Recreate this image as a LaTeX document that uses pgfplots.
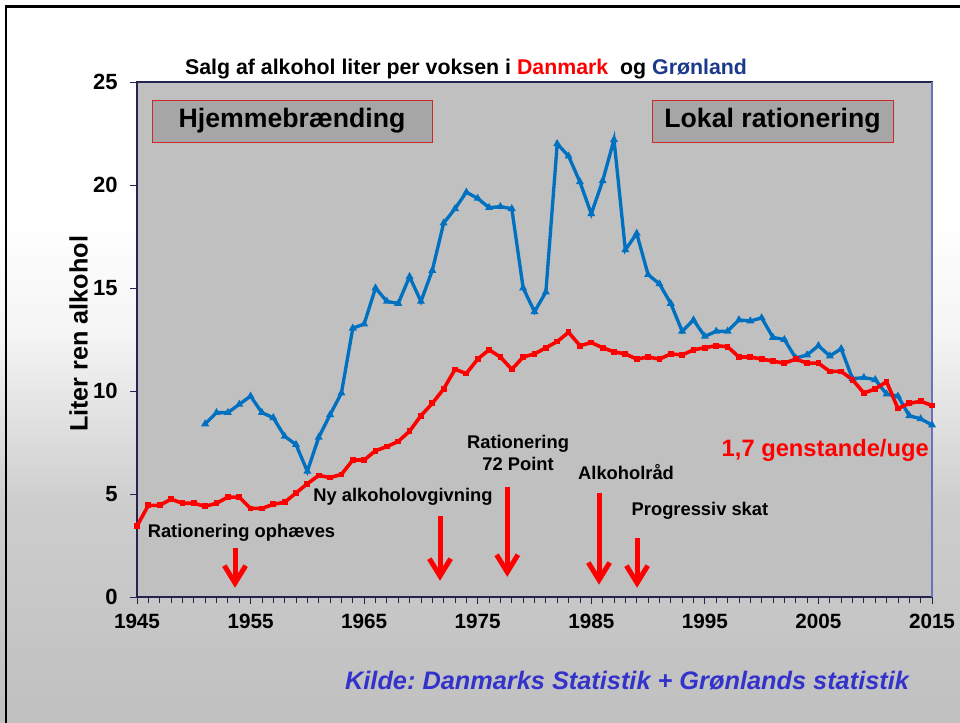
\documentclass[border=0pt]{standalone}
\usepackage{pgfplots}
\pgfplotsset{compat=1.18}
\usepackage{fontspec}
\setmainfont{Liberation Sans}

\definecolor{plotgray}{RGB}{192,192,192}
\definecolor{boxgray}{RGB}{166,166,166}
\definecolor{axisnavy}{RGB}{36,36,80}
\definecolor{framepurple}{RGB}{110,110,190}
\definecolor{dkred}{RGB}{255,0,0}
\definecolor{glblue}{RGB}{0,112,192}
\definecolor{titlenavy}{RGB}{28,58,140}
\definecolor{srcblue}{RGB}{51,51,204}
\definecolor{bgA}{RGB}{192,192,192}
\definecolor{bgB}{RGB}{205,205,205}
\definecolor{bgC}{RGB}{245,245,245}

\pgfdeclareverticalshading{slidebg}{100bp}{color(0bp)=(bgA); color(25bp)=(bgA); color(40bp)=(bgB); color(52bp)=(bgC); color(60bp)=(white); color(100bp)=(white)}

% downward red arrow: x, top, tip
\newcommand{\downarr}[3]{%
  \draw[dkred, line width=3.75pt] (axis cs:#1,#2) -- (axis cs:#1,#3);
  \draw[dkred, line width=3.75pt, line join=miter] (axis cs:#1,#3) ++(-8pt,13pt) -- (axis cs:#1,#3) -- ++(8pt,13pt);
}

\pgfplotstableread{
year val
1945 3.45
1946 4.45
1947 4.45
1948 4.75
1949 4.55
1950 4.55
1951 4.4
1952 4.55
1953 4.85
1954 4.85
1955 4.3
1956 4.3
1957 4.5
1958 4.6
1959 5.05
1960 5.5
1961 5.9
1962 5.8
1963 5.95
1964 6.65
1965 6.65
1966 7.1
1967 7.3
1968 7.55
1969 8.05
1970 8.8
1971 9.4
1972 10.1
1973 11.05
1974 10.85
1975 11.55
1976 12.0
1977 11.65
1978 11.05
1979 11.65
1980 11.8
1981 12.1
1982 12.4
1983 12.85
1984 12.2
1985 12.35
1986 12.1
1987 11.9
1988 11.8
1989 11.55
1990 11.65
1991 11.55
1992 11.8
1993 11.75
1994 12.0
1995 12.1
1996 12.2
1997 12.15
1998 11.65
1999 11.65
2000 11.55
2001 11.45
2002 11.35
2003 11.55
2004 11.35
2005 11.35
2006 10.95
2007 10.95
2008 10.55
2009 9.9
2010 10.1
2011 10.45
2012 9.15
2013 9.4
2014 9.5
2015 9.3
}\danmark

\pgfplotstableread{
year val
1951 8.4
1952 8.95
1953 8.95
1954 9.35
1955 9.75
1956 8.95
1957 8.7
1958 7.8
1959 7.4
1960 6.1
1961 7.75
1962 8.85
1963 9.9
1964 13.05
1965 13.25
1966 15.0
1967 14.35
1968 14.25
1969 15.55
1970 14.35
1971 15.85
1972 18.15
1973 18.85
1974 19.65
1975 19.35
1976 18.9
1977 18.95
1978 18.85
1979 15.0
1980 13.85
1981 14.8
1982 22.0
1983 21.4
1984 20.15
1985 18.6
1986 20.2
1987 22.2
1988 16.85
1989 17.65
1990 15.65
1991 15.2
1992 14.25
1993 12.9
1994 13.45
1995 12.65
1996 12.9
1997 12.9
1998 13.45
1999 13.4
2000 13.55
2001 12.6
2002 12.5
2003 11.6
2004 11.75
2005 12.2
2006 11.7
2007 12.05
2008 10.6
2009 10.65
2010 10.55
2011 9.85
2012 9.75
2013 8.8
2014 8.65
2015 8.35
}\groenland

\begin{document}
\frenchspacing
\begin{tikzpicture}
\useasboundingbox (0,0) rectangle (720pt,541.5pt);
\shade[shading=slidebg] (0,0) rectangle (720pt,541.5pt);
\draw[black, line width=2pt] (4.5pt,-20pt) -- (4.5pt,536.6pt) -- (740pt,536.6pt);

\begin{axis}[
  at={(102.75pt,93.75pt)}, anchor=south west,
  scale only axis, width=596.25pt, height=386.25pt,
  xmin=1945, xmax=2015, ymin=0, ymax=25,
  xtick={1945,1955,...,2015}, minor x tick num=9,
  ytick={0,5,...,25},
  xtick pos=bottom, ytick pos=left,
  tick align=outside,
  major tick length=5pt, minor tick length=4.5pt,
  tick style={axisnavy, line width=0.6pt},
  /pgf/number format/.cd, 1000 sep={}, assume math mode=true,
  /pgfplots/.cd,
  xticklabel style={font=\fontsize{15.5}{17}\selectfont\bfseries, yshift=-4pt},
  yticklabel style={font=\fontsize{16.5}{18}\selectfont\bfseries, xshift=-6pt},
  axis background/.style={fill=plotgray},
  axis line style={axisnavy, line width=0.8pt},
  clip=false,
]
\draw[framepurple, line width=0.9pt] (rel axis cs:1,0) -- (rel axis cs:1,1);

% boxes
\draw[fill=boxgray, draw={rgb,255:red,204;green,40;blue,40}, line width=0.6pt]
  (axis cs:1946.32,22.09) rectangle (axis cs:1970.98,24.13);
\node[font=\fontsize{20}{22}\selectfont\bfseries] at (axis cs:1958.65,23.11) {Hjemmebrænding};
\draw[fill=boxgray, draw={rgb,255:red,204;green,40;blue,40}, line width=0.6pt]
  (axis cs:1990.35,22.09) rectangle (axis cs:2011.57,24.13);
\node[font=\fontsize{20}{22}\selectfont\bfseries] at (axis cs:2000.96,23.11) {Lokal rationering};

\addplot[glblue, line width=2.5pt, mark=triangle*, mark size=1.0pt, mark options={solid}] table[x=year, y=val] {\groenland};
\addplot[dkred, line width=2.7pt, mark=square*, mark size=0.8pt] table[x=year, y=val] {\danmark};

% annotations
\node[font=\fontsize{13.75}{16}\selectfont\bfseries] at (axis cs:1954.2,3.11) {Rationering ophæves};
\node[font=\fontsize{13.75}{16}\selectfont\bfseries] at (axis cs:1968.42,4.85) {Ny alkoholovgivning};
\node[font=\fontsize{13.75}{16.5}\selectfont\bfseries, align=center] at (axis cs:1978.55,6.99) {Rationering\\72 Point};
\node[font=\fontsize{13.75}{16}\selectfont\bfseries] at (axis cs:1988.06,6.07) {Alkoholråd};
\node[font=\fontsize{13.75}{16}\selectfont\bfseries] at (axis cs:1994.57,4.17) {Progressiv skat};
\node[font=\fontsize{17.8}{20}\selectfont\bfseries, text=dkred, anchor=east, inner sep=0pt] at (axis cs:2014.74,7.14) {1,7 genstande/uge};

\downarr{1953.63}{2.38}{0.68}
\downarr{1971.68}{3.93}{1.02}
\downarr{1977.6}{5.34}{1.21}
\downarr{1985.68}{5.05}{0.83}
\downarr{1989.03}{2.86}{0.68}

% titles
\node[font=\fontsize{16}{18}\selectfont\bfseries] at (axis cs:1973.97,25.65)
  {Salg af alkohol liter per voksen i \textcolor{dkred}{Danmark}\ \ og \textcolor{titlenavy}{Grønland}};
\node[font=\fontsize{18.9}{20}\selectfont\bfseries, rotate=90] at (axis cs:1939.85,12.77) {Liter ren alkohol};
\node[font=\fontsize{19}{21}\selectfont\bfseries\itshape, text=srcblue] at (axis cs:1988.15,-4.08)
  {Kilde: Danmarks Statistik + Grønlands statistik};
\end{axis}
\end{tikzpicture}
\end{document}
